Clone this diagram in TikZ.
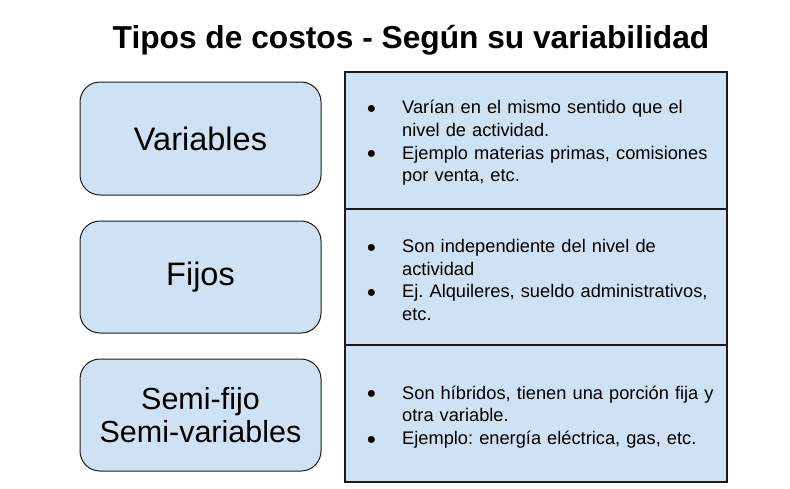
\documentclass[tikz,border=0pt]{standalone}
\usepackage{fontspec}
\setmainfont{Liberation Sans}
\frenchspacing
\definecolor{boxblue}{HTML}{CFE2F3}
\definecolor{boxline}{HTML}{1A1A1A}
\tikzset{
  catbox/.style={draw=boxline, fill=boxblue, line width=1pt, rounded corners=20pt},
  rowbox/.style={draw=boxline, fill=boxblue, line width=1.2pt},
  catlabel/.style={font=\fontsize{32.5}{37}\selectfont, align=center, inner sep=0pt},
  rowtext/.style={font=\fontsize{18.25}{22.6}\selectfont, align=left, inner sep=0pt, anchor=west, text width=355pt},
}
\newcommand{\bul}{\makebox[35.5pt][l]{\raisebox{0.3pt}{\fontsize{16}{16}\selectfont ●}}}
\newcommand{\ind}{\hspace*{35.5pt}}
\begin{document}
\begin{tikzpicture}[x=1pt,y=-1pt]
\useasboundingbox (0,0) rectangle (790,488);
\node[font=\fontsize{31.7}{36}\bfseries\selectfont, inner sep=0pt] (title) at (411,40) {Tipos de costos - Según su variabilidad};
% left boxes
\draw[catbox] (80,82) rectangle (321,195);
\draw[catbox] (80,221) rectangle (321,333);
\draw[catbox] (80,359) rectangle (321,471);
\node[catlabel] (var) at (200.5,139) {Variables};
\node[catlabel] (fij) at (200.5,277) {Fijos};
\node[catlabel, font=\fontsize{30.5}{33.5}\selectfont] (semi) at (200.5,415) {Semi-fijo\\Semi-variables};
% right rows
\draw[rowbox] (345,72) rectangle (727,209);
\draw[rowbox] (345,209) rectangle (727,345);
\draw[rowbox] (345,345) rectangle (727,482);
\draw[boxline, line width=2pt] (345,209) -- (727,209);
\node[rowtext] (r1) at (366.5,143) {\bul Varían en el mismo sentido que el\\\ind nivel de actividad.\\\bul Ejemplo materias primas, comisiones\\\ind por venta, etc.};
\node[rowtext] (r2) at (366.5,280) {\bul Son independiente del nivel de\\\ind actividad\\\bul Ej. Alquileres, sueldo administrativos,\\\ind etc.};
\node[rowtext] (r3) at (366.5,417) {\bul Son híbridos, tienen una porción fija y\\\ind otra variable.\\\bul Ejemplo: energía eléctrica, gas, etc.};
\end{tikzpicture}
\end{document}
